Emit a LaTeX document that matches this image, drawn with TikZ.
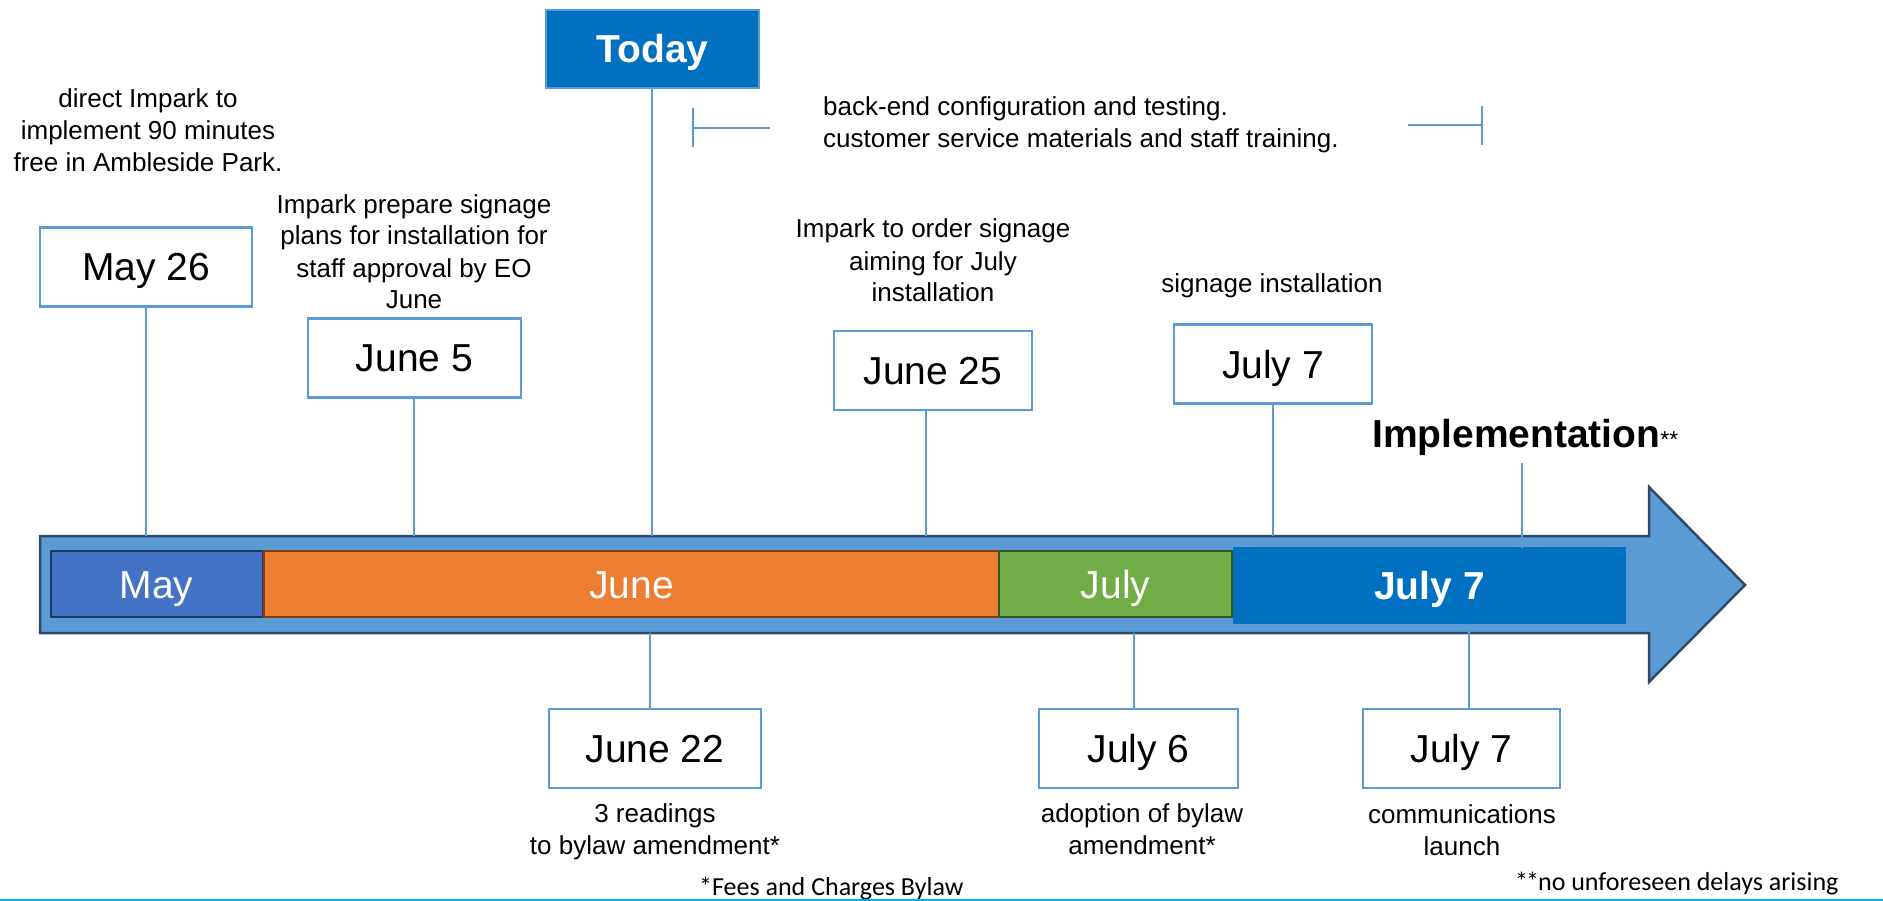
\documentclass[tikz,border=0pt]{standalone}
\usepackage{fontspec}
\setmainfont{Liberation Sans}
\newfontfamily\notefont{Carlito}

\definecolor{boxblue}{HTML}{5B9BD5}
\definecolor{arrowfill}{HTML}{5B9BD5}
\definecolor{arrowline}{HTML}{2F4A68}
\definecolor{todayblue}{HTML}{0070C0}
\definecolor{maybar}{HTML}{4472C4}
\definecolor{maydark}{HTML}{1F3864}
\definecolor{junebar}{HTML}{ED7D31}
\definecolor{junedark}{HTML}{843C0C}
\definecolor{julybar}{HTML}{70AD47}
\definecolor{julydark}{HTML}{375623}
\definecolor{edgecyan}{HTML}{00B0F0}

\begin{document}
\begin{tikzpicture}[x=1pt, y=-1pt]
    \tikzset{datebox/.style={draw=boxblue, line width=2.5pt, fill=white, minimum height=79pt,
                 inner sep=0pt, text height=28pt, text depth=0pt, font=\fontsize{39}{45}\selectfont},
             monthbar/.style={line width=2pt, minimum height=66pt, inner sep=0pt, text=white,
                 text height=28pt, text depth=0pt, font=\fontsize{39}{45}\selectfont},
             note/.style={align=center, inner sep=0pt, font=\fontsize{26}{32}\selectfont},
             footnote/.style={inner sep=0pt, font=\notefont\fontsize{26}{30}\selectfont},
             pinline/.style={draw=boxblue, line width=2pt},
             span/.style={draw=boxblue, line width=1.5pt}}
    \useasboundingbox (0,0) rectangle (1883,901);

    % the timeline arrow
    \filldraw[fill=arrowfill, draw=arrowline, line width=2.5pt, line join=miter]
        (40,536) -- (1649,536) -- (1649,487) -- (1745,585) -- (1649,682) -- (1649,633) -- (40,633) -- cycle;

    \foreach \nm/\cx/\w/\fc/\dc/\txt in {may/156.5/212/maybar/maydark/May,
            june/631.5/735/junebar/junedark/June, july/1115.5/233/julybar/julydark/July}
        \node[monthbar, fill=\fc, draw=\dc, minimum width=\w pt] (\nm) at (\cx,584) {\txt};
    \node[monthbar, fill=todayblue, minimum width=393pt, minimum height=77pt,
          font=\bfseries\fontsize{39}{45}\selectfont] (launch) at (1429.5,585.5) {July 7};

    \node[datebox, fill=todayblue, minimum width=213pt, minimum height=78pt, text=white,
          font=\bfseries\fontsize{39}{45}\selectfont] (today) at (652.5,49) {Today};

    \foreach \nm/\cx/\cy/\w/\txt in {may26/146/267/212/May 26, jun5/414.5/358/213/June 5,
            jun25/933/370.5/198/June 25, jul7a/1273/364/198/July 7, jun22/655/748.5/212/June 22,
            jul6/1138.5/748.5/199/July 6, jul7b/1461.5/748.5/197/July 7}
        \node[datebox, minimum width=\w pt] (\nm) at (\cx,\cy) {\txt};

    % pins down to the arrow, and up from it
    \foreach \nm/\lx/\ly in {may26/146/536, jun5/414/536, jun25/926/536, jul7a/1273/536, today/652/536} {
        \coordinate (\nm-pin) at (\lx,\ly);
        \draw[pinline] (\nm.south -| \nm-pin) -- (\nm-pin);
    }
    \foreach \nm/\lx/\ly in {jun22/650/633, jul6/1134/633, jul7b/1469/624} {
        \coordinate (\nm-pin) at (\lx,\ly);
        \draw[pinline] (\nm-pin) -- (\nm.north -| \nm-pin);
    }

    % notes (base = baseline of the last line)
    \node[note, anchor=base] (n-may26) at (148,172) {direct Impark to\\implement 90 minutes\\free in Ambleside Park.};
    \node[note, anchor=base] (n-jun5) at (414,309) {Impark prepare signage\\plans for installation for\\staff approval by EO\\June};
    \node[note, anchor=base] (n-jun25) at (933,302) {Impark to order signage\\aiming for July\\installation};
    \node[note, anchor=base] (n-jul7a) at (1272,293) {signage installation};
    \node[note, anchor=base west, align=left] (n-config) at (823,148)
        {back-end configuration and testing.\\customer service materials and staff training.};
    \node[note, anchor=base] (n-jun22) at (655,854) {3 readings\\to bylaw amendment*};
    \node[note, anchor=base] (n-jul6) at (1142,854) {adoption of bylaw\\amendment*};
    \node[note, anchor=base] (n-jul7b) at (1462,855) {communications\\launch};

    % span of the back-end work
    \coordinate (span-l) at (693,128);
    \coordinate (span-r) at (1482,125);
    \draw[span] (span-l) ++(0,-20) -- ++(0,39) (span-l) -- ++(77,0);
    \draw[span] (span-r) ++(0,-19) -- ++(0,39) (span-r) -- ++(-74,0);

    \node[anchor=base west, inner sep=0pt] (impl) at (1372,447)
        {\bfseries\fontsize{39}{45}\selectfont Implementation\mdseries\fontsize{23}{26}\selectfont **};
    \coordinate (impl-top) at (1522,463);
    \coordinate (impl-pin) at (1522,548);
    \draw[pinline] (impl-top) -- (impl-pin);

    \node[footnote, anchor=base west] (fn-bylaw) at (699,895) {*Fees and Charges Bylaw};
    \node[footnote, anchor=base west] (fn-delay) at (1515,890) {*\kern-2pt*\kern-1pt no unforeseen delays arising};
    \draw[edgecyan, line width=2pt] (0,900) -- (1883,900);
\end{tikzpicture}
\end{document}
